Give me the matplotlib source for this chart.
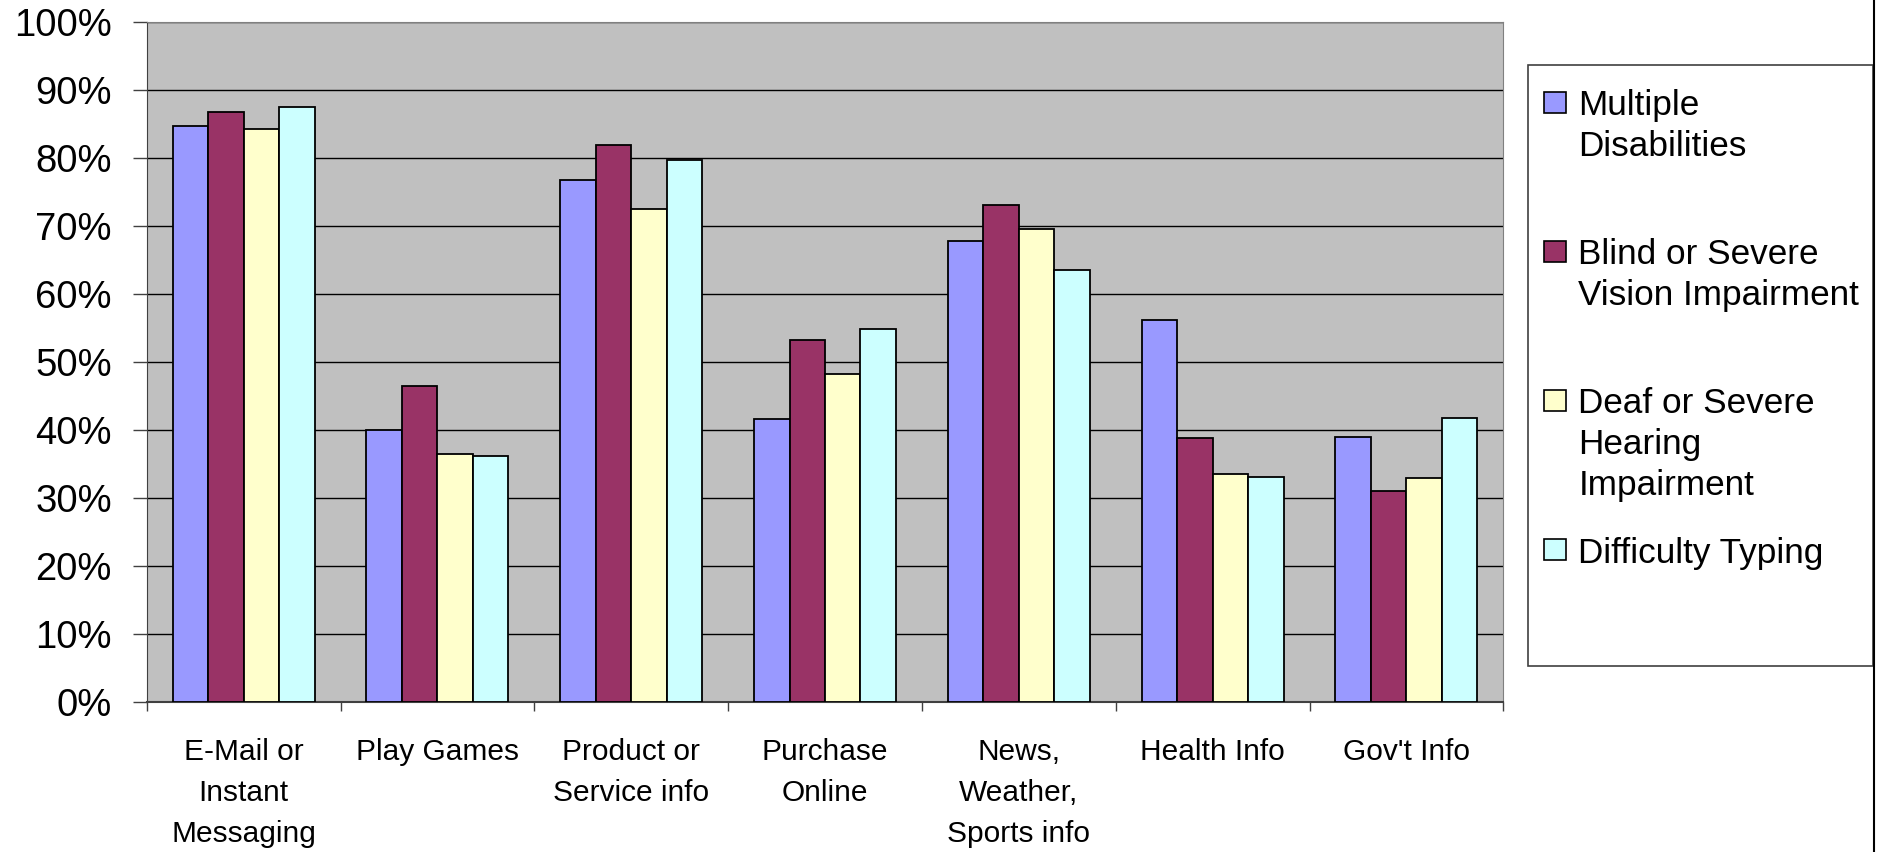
import numpy as np
import matplotlib
matplotlib.use("Agg")
import matplotlib.pyplot as plt
from matplotlib.patches import Rectangle
from matplotlib.lines import Line2D

plt.rcParams["font.family"] = ["Liberation Sans", "DejaVu Sans"]

# ── data (percent) ──────────────────────────────────────────────
categories = ["E-Mail or\nInstant\nMessaging", "Play Games", "Product or\nService info",
              "Purchase\nOnline", "News,\nWeather,\nSports info", "Health Info", "Gov't Info"]
series = ["Multiple\nDisabilities", "Blind or Severe\nVision Impairment",
          "Deaf or Severe\nHearing\nImpairment", "Difficulty Typing"]
multiple = [84.7, 39.9, 76.7, 41.6, 67.8, 56.2, 39.0]
blind = [86.7, 46.5, 81.9, 53.2, 73.1, 38.8, 31.0]
deaf = [84.2, 36.4, 72.5, 48.2, 69.5, 33.5, 32.9]
typing = [87.5, 36.2, 79.7, 54.8, 63.5, 33.0, 41.8]
colors = ["#9999FF", "#993366", "#FFFFCC", "#CCFFFF"]

W, H = 1885, 852
fig = plt.figure(figsize=(W / 100, H / 100), dpi=100)
ax = fig.add_axes([146.7 / W, 1 - 701.7 / H, (1503.3 - 146.7) / W, (701.7 - 22) / H])
ax.set_facecolor("#C0C0C0")

x = np.arange(len(categories))
bw = 0.183
for i, vals in enumerate([multiple, blind, deaf, typing]):
    ax.bar(x + (i - 1.5) * bw, vals, width=bw, color=colors[i], edgecolor="black",
           linewidth=1.3, zorder=3)

ax.set_ylim(0, 100)
ax.set_xlim(-0.5, len(categories) - 0.5)
ax.set_yticks(np.arange(0, 101, 10))
ax.set_yticklabels([f"{v}%" for v in range(0, 101, 10)], fontsize=27.5)
ax.yaxis.grid(True, color="black", lw=1.0, zorder=1)
ax.set_axisbelow(True)
ax.tick_params(axis="y", length=10, width=1, pad=15, color="#404040")

ax.set_xticks(x)
ax.set_xticklabels(categories, fontsize=21.5, linespacing=1.6)
ax.set_xticks(np.arange(-0.5, len(categories), 1), minor=True)
ax.tick_params(axis="x", which="major", length=0, pad=26)
ax.tick_params(axis="x", which="minor", length=6.5, width=1, color="#404040")

for s in ["top", "right"]:
    ax.spines[s].set_color("#808080")
ax.spines["left"].set_color("#404040")
ax.spines["bottom"].set_color("#404040")
ax.spines["bottom"].set_linewidth(1.5)

# ── legend box (Excel style, evenly spaced entries) ─────────────
fig.add_artist(Rectangle((1527.7 / W, 1 - 665.7 / H), 345 / W, 600.7 / H,
                         transform=fig.transFigure, facecolor="white",
                         edgecolor="#404040", lw=1.2))
for i, (lab, c) in enumerate(zip(series, colors)):
    top = 89 + i * 149.2
    fig.add_artist(Rectangle((1544.3 / W, 1 - (top + 23.5) / H), 21.5 / W, 21 / H,
                             transform=fig.transFigure, facecolor=c,
                             edgecolor="black", lw=1.2))
    fig.text(1578.3 / W, 1 - top / H, lab, fontsize=25.3, va="top",
             ha="left", linespacing=1.3)

fig.add_artist(Line2D([1874 / W, 1874 / W], [0, 1], transform=fig.transFigure,
                      color="black", lw=1.5))

fig.savefig("out.png", dpi=100)
